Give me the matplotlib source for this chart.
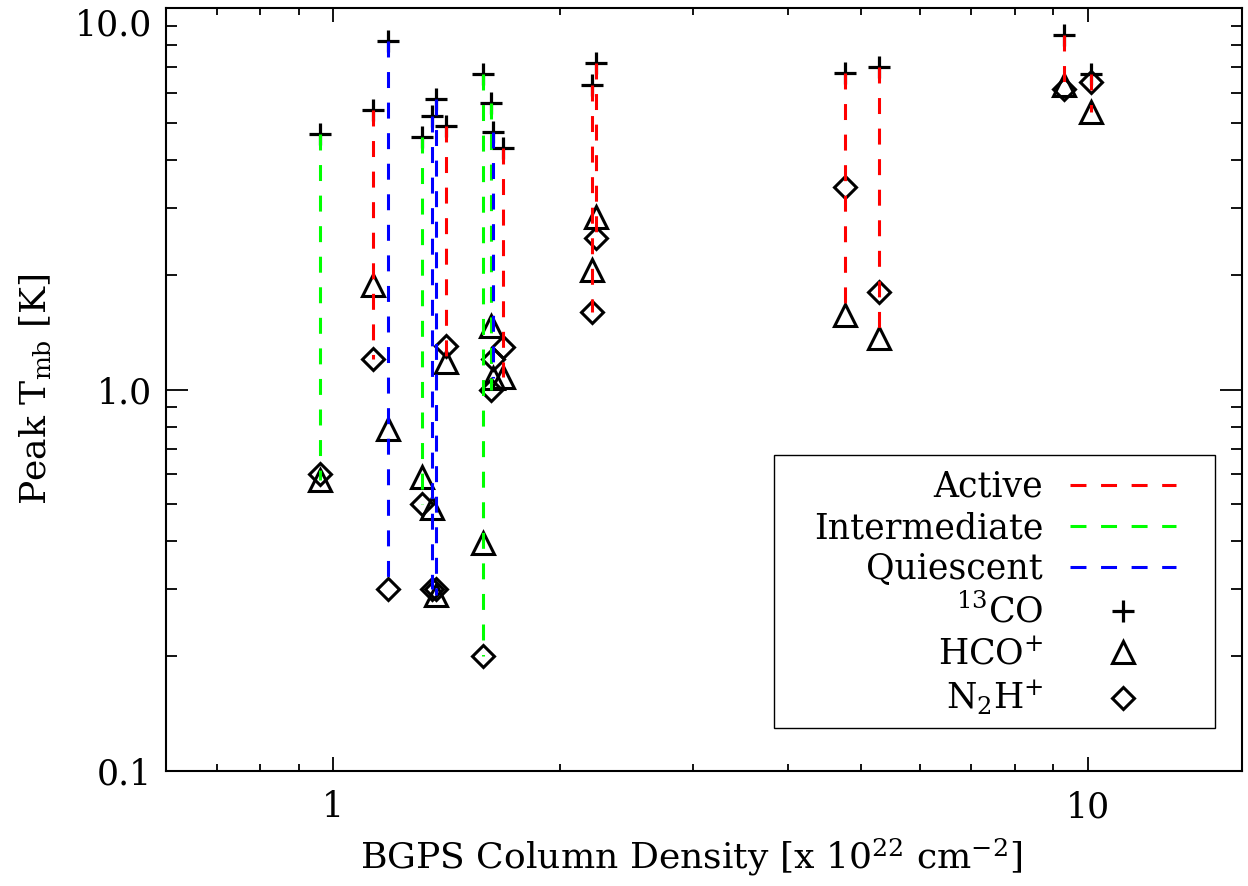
import matplotlib
matplotlib.use("Agg")
import matplotlib.pyplot as plt
from matplotlib.lines import Line2D
from matplotlib.patches import Rectangle
from matplotlib.ticker import FixedLocator, FixedFormatter, LogLocator, NullFormatter

plt.rcParams['font.family'] = 'DejaVu Serif'
plt.rcParams['mathtext.fontset'] = 'dejavuserif'
plt.rcParams['font.size'] = 25
plt.rcParams['lines.scale_dashes'] = False

# BGPS column density [x 10^22 cm^-2] of each clump
col_density = [0.96, 1.13, 1.18, 1.31, 1.35, 1.37, 1.41, 1.58, 1.62, 1.63, 1.68,
               2.20, 2.23, 4.76, 5.29, 9.31, 10.1]
# peak main-beam temperatures [K]
peak_13co = [4.69, 5.40, 8.21, 4.60, 5.21, 5.80, 4.90, 6.71, 5.63, 4.74, 4.30,
             6.31, 7.19, 6.78, 7.02, 8.50, 6.74]
peak_hco = [0.58, 1.88, 0.79, 0.59, 0.49, 0.29, 1.18, 0.395, 1.47, 1.07, 1.08,
            2.06, 2.84, 1.57, 1.37, 6.28, 5.35]
peak_n2h = [0.60, 1.20, 0.30, 0.50, 0.30, 0.30, 1.30, 0.20, 1.00, 1.20, 1.29,
            1.60, 2.50, 3.40, 1.80, 6.15, 6.41]
activity = ['Intermediate', 'Active', 'Quiescent', 'Intermediate', 'Quiescent',
            'Quiescent', 'Active', 'Intermediate', 'Intermediate', 'Quiescent',
            'Active', 'Active', 'Active', 'Active', 'Active', 'Active', 'Active']

groups = ['Active', 'Intermediate', 'Quiescent']
group_colors = {'Active': '#ff0000', 'Intermediate': '#00ff00', 'Quiescent': '#0000ff'}

dash = (11.5, 10.5)
lw = 2.2

fig = plt.figure(figsize=(12.48, 8.86), dpi=100)
ax = fig.add_axes([166 / 1248, 115 / 886, 1075.7 / 1248, 762.7 / 886])

# markers first, dashed connectors drawn on top
ax.plot(col_density, peak_13co, ls='none', marker='+', ms=16, mew=2.3, color='k', zorder=2)
ax.plot(col_density, peak_hco, ls='none', marker='^', ms=16, mew=2.2, mfc='none', mec='k', zorder=2)
ax.plot(col_density, peak_n2h, ls='none', marker='D', ms=11.5, mew=2.2, mfc='none', mec='k', zorder=2)

for x, top, a, b, grp in zip(col_density, peak_13co, peak_hco, peak_n2h, activity):
    ax.plot([x, x], [top, min(a, b)], color=group_colors[grp], lw=lw, dashes=dash, zorder=3)

ax.set_xscale('log')
ax.set_yscale('log')
ax.set_xlim(0.6, 16)
ax.set_ylim(0.1, 10)

ax.xaxis.set_major_locator(FixedLocator([1, 10]))
ax.xaxis.set_major_formatter(FixedFormatter(['1', '10']))
ax.yaxis.set_major_locator(FixedLocator([0.1, 1, 10]))
ax.yaxis.set_major_formatter(FixedFormatter(['0.1', '1.0', '10.0']))
for axis in (ax.xaxis, ax.yaxis):
    axis.set_minor_locator(LogLocator(base=10, subs=range(2, 10), numticks=20))
    axis.set_minor_formatter(NullFormatter())

ax.tick_params(which='both', direction='in', top=True, right=True, width=1.3)
ax.tick_params(axis='y', which='major', length=16, pad=10)
ax.tick_params(axis='y', which='minor', length=8)
ax.tick_params(axis='x', which='major', length=10, pad=14)
ax.tick_params(axis='x', which='minor', length=5)
for sp in ax.spines.values():
    sp.set_linewidth(1.5)
# top label sits just below the axis edge
ax.yaxis.get_major_ticks()[2].label1.set_va('top')

ax.set_xlabel(r'BGPS Column Density [x 10$^{22}$ cm$^{-2}$]', fontsize=26)
ax.xaxis.set_label_coords(0.488, -0.085)
ax.set_ylabel(r'Peak T$_{\rm mb}$ [K]', fontsize=26, labelpad=16)

# legend frame drawn on its own, entries placed inside it
ax.add_patch(Rectangle((0.565, 0.056), 0.41, 0.358, transform=ax.transAxes,
                       facecolor='white', edgecolor='black', lw=1.0, zorder=4))
handles = [Line2D([], [], color=group_colors[g], lw=lw, dashes=dash) for g in groups]
handles += [
    Line2D([], [], ls='none', marker='+', ms=16, mew=2.3, color='k'),
    Line2D([], [], ls='none', marker='^', ms=16, mew=2.2, mfc='none', mec='k'),
    Line2D([], [], ls='none', marker='D', ms=11.5, mew=2.2, mfc='none', mec='k'),
]
labels = groups + [r'$^{13}$CO', r'HCO$^{+}$', r'N$_{2}$H$^{+}$']
leg = ax.legend(handles, labels, loc='upper right', bbox_to_anchor=(0.939, 0.395),
                markerfirst=False, frameon=False, handlelength=3.05,
                handletextpad=0.78, labelspacing=0.21, borderpad=0,
                borderaxespad=0, fontsize=25)
leg.set_zorder(5)

fig.savefig('out.png', dpi=100)
